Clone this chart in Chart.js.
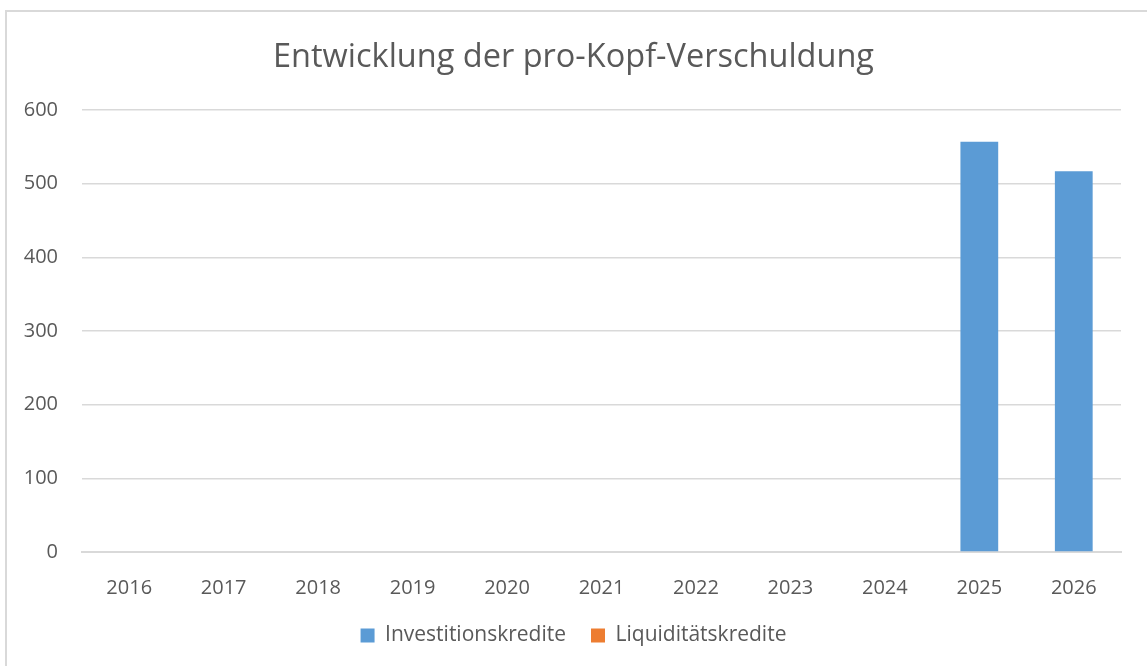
<!DOCTYPE html>
<html>
<head>
	<script src="https://cdn.jsdelivr.net/npm/chart.js@4"></script>
	<style>
		body { margin: 0; background: #fff; overflow: hidden; }
		#frame { position: absolute; left: 5px; top: 10px; width: 1200px; height: 700px; border: 2px solid #d9d9d9; }
		#wrap { position: absolute; left: 0; top: 0; width: 1147px; height: 666px; }
	</style>
</head>
<body>
	<div id="frame"></div>
	<div id="wrap"><canvas id="canvas" width="1147" height="666"></canvas></div>
	<script type="text/javascript">

	// data
	var years = ["2016", "2017", "2018", "2019", "2020", "2021", "2022", "2023", "2024", "2025", "2026"];
	var investitionskredite = [0, 0, 0, 0, 0, 0, 0, 0, 0, 557, 517];
	var liquiditaetskredite = [0, 0, 0, 0, 0, 0, 0, 0, 0, 0, 0];
	var yTicks = [0, 100, 200, 300, 400, 500, 600];

	var fontName = "'Open Sans', sans-serif";
	var grey = "#595959";

	var ctx = document.getElementById("canvas").getContext("2d");
	var chart = new Chart(ctx, {
		type: "bar",
		data: {
			labels: years,
			datasets: [
				{ label: "Investitionskredite", data: investitionskredite, backgroundColor: "#5b9bd5", borderWidth: 0 },
				{ label: "Liquiditätskredite", data: liquiditaetskredite, backgroundColor: "#ed7d31", borderWidth: 0 }
			]
		},
		options: {
			responsive: false,
			animation: false,
			layout: { padding: { left: 0, right: 0, top: 0, bottom: 10 } },
			datasets: { bar: { grouped: false, categoryPercentage: 1, barPercentage: 0.40 } },
			plugins: {
				title: {
					display: true,
					text: "Entwicklung der pro-Kopf-Verschuldung",
					color: grey,
					font: { family: fontName, size: 32.5, weight: "normal" },
					padding: { top: 38, bottom: 33 }
				},
				legend: {
					position: "bottom",
					labels: {
						color: grey,
						font: { family: fontName, size: 21 },
						boxWidth: 14, boxHeight: 14,
						padding: 25
					}
				},
				tooltip: { enabled: false }
			},
			scales: {
				x: {
					grid: { display: false },
					border: { color: "#d9d9d9", width: 2 },
					ticks: { color: grey, font: { family: fontName, size: 20 }, padding: 16 },
					afterFit: function(s) { s.height = 48; }
				},
				y: {
					min: 0, max: 600,
					afterBuildTicks: function(s) { s.ticks = yTicks.map(function(v) { return { value: v }; }); },
					grid: { color: "#d9d9d9", lineWidth: 1.5, drawTicks: false },
					border: { display: false },
					ticks: { color: grey, font: { family: fontName, size: 20 }, padding: 24 },
					afterFit: function(s) { s.width = 82; }
				},
				// empty right-hand spacer so the chart area ends where the original does
				spacer: {
					position: "right",
					min: 0, max: 1,
					grid: { display: false },
					border: { display: false },
					ticks: { display: false },
					afterFit: function(s) { s.width = 26; }
				}
			}
		}
	});

	</script>
</body>
</html>
